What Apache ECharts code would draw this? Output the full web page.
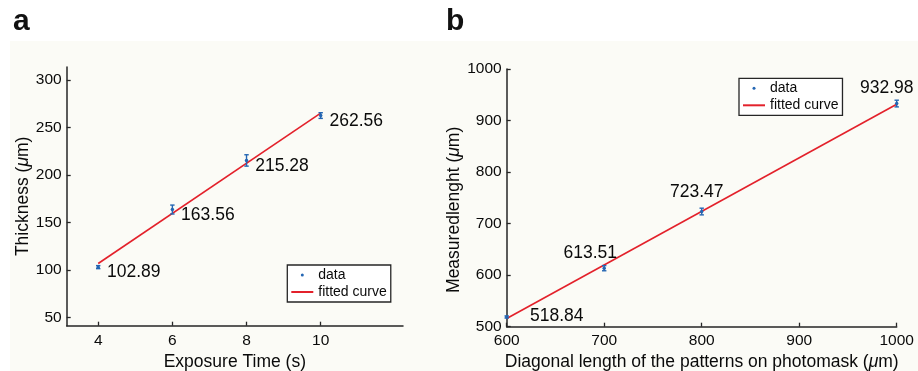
<!DOCTYPE html>
<html>
<head>
<meta charset="utf-8">
<script src="https://cdn.jsdelivr.net/npm/echarts@6/dist/echarts.min.js"></script>
<style>html,body{margin:0;padding:0;background:#fff;}#c{width:918px;height:371px;}</style>
</head>
<body>
<div id="c"></div>
<script>
// ---- Panel a data ----
const xA = [4, 6, 8, 10];
const yA = [102.89, 163.56, 215.28, 262.56];
const errA = [1.6, 4.7, 6.0, 3.0];
const fitA = [[4, 106.7], [10, 265.2]];
const xTicksA = [4, 6, 8, 10];
const yTicksA = [50, 100, 150, 200, 250, 300];

// ---- Panel b data ----
const xB = [600, 700, 800, 1000];
const yB = [518.84, 613.51, 723.47, 932.98];
const errB = [2.0, 5.0, 6.5, 6.5];
const fitB = [[600, 515.8], [1000, 931.5]];
const xTicksB = [600, 700, 800, 900, 1000];
const yTicksB = [500, 600, 700, 800, 900, 1000];

// label placement (style, not data)
const labelOffsetB = [[50, -1], [-14, -15.5], [-5, -19], [-10, -15.5]];

const FONT = '"Liberation Sans", Arial, Helvetica, sans-serif';
const AX = '#262626';
const TXT = '#0a0a0a';
const BLUE = '#2466b3';
const RED = '#e3212b';

const chart = echarts.init(document.getElementById('c'), null, {renderer: 'canvas'});

function errRender(params, api) {
  const x = api.value(0);
  const lo = api.coord([x, api.value(1)]);
  const hi = api.coord([x, api.value(2)]);
  const w = 2.2;
  const st = {stroke: BLUE, lineWidth: 1.4};
  return {
    type: 'group',
    children: [
      {type: 'line', shape: {x1: lo[0], y1: lo[1], x2: hi[0], y2: hi[1]}, style: st},
      {type: 'line', shape: {x1: lo[0] - w, y1: lo[1], x2: lo[0] + w, y2: lo[1]}, style: st},
      {type: 'line', shape: {x1: hi[0] - w, y1: hi[1], x2: hi[0] + w, y2: hi[1]}, style: st}
    ]
  };
}

function makeAxis(ticks, extra, margin) {
  return Object.assign({
    type: 'value',
    axisLine: {show: true, onZero: false, lineStyle: {color: AX, width: 1.5}},
    axisTick: {show: true, inside: true, length: 4, customValues: ticks, lineStyle: {color: AX, width: 1.3}},
    axisLabel: {customValues: ticks, color: TXT, fontSize: 15.5, fontFamily: FONT, margin: margin,
      formatter: v => String(v)},
    splitLine: {show: false},
    nameLocation: 'middle',
    nameTextStyle: {color: TXT, fontSize: 17.5, fontFamily: FONT,
      rich: {i: {fontStyle: 'italic', fontSize: 17.5, fontFamily: FONT, color: TXT}}}
  }, extra);
}

const legendCommon = {
  orient: 'vertical', selectedMode: false,
  backgroundColor: '#ffffff', borderColor: AX, borderWidth: 1.3, borderRadius: 0,
  padding: [2, 4, 2, 3], itemGap: 1, itemWidth: 22, itemHeight: 3,
  textStyle: {fontSize: 14, fontFamily: FONT, color: TXT, lineHeight: 16},
  data: [{name: 'data', icon: 'circle'}, {name: 'fitted curve', itemStyle: {opacity: 0}}]
};

const option = {
  animation: false,
  backgroundColor: '#ffffff',
  textStyle: {fontFamily: FONT},
  graphic: [
    {type: 'rect', z: -10, silent: true, shape: {x: 10, y: 41, width: 908, height: 330}, style: {fill: '#fbfbf6'}},
    {type: 'text', x: 13, y: 21.5, style: {text: 'a', font: 'bold 30px ' + FONT, fill: '#111', verticalAlign: 'middle'}},
    {type: 'text', x: 446, y: 21.5, style: {text: 'b', font: 'bold 30px ' + FONT, fill: '#111', verticalAlign: 'middle'}}
  ],
  grid: [
    {left: 66.7, top: 67, width: 336.3, height: 258.7, containLabel: false, outerBoundsMode: 'none'},
    {left: 506.7, top: 69, width: 390, height: 257.7, containLabel: false, outerBoundsMode: 'none'}
  ],
  xAxis: [
    makeAxis(xTicksA, {gridIndex: 0, min: 3.15, max: 12.22, name: 'Exposure Time (s)', nameGap: 24}, 7),
    makeAxis(xTicksB, {gridIndex: 1, min: 600, max: 1000, name: 'Diagonal length of the patterns on photomask ({i|μ}m)', nameGap: 24}, 6)
  ],
  yAxis: [
    makeAxis(yTicksA, {gridIndex: 0, min: 41.2, max: 313.7, name: 'Thickness ({i|μ}m)', nameGap: 35}, 5),
    makeAxis(yTicksB, {gridIndex: 1, min: 500, max: 1000, name: 'Measuredlenght ({i|μ}m)', nameGap: 39}, 5)
  ],
  legend: [
    Object.assign({}, legendCommon, {left: 287.3, top: 265}),
    Object.assign({}, legendCommon, {left: 739, top: 78.3})
  ],
  series: [
    {
      name: 'fitted curve', type: 'line', xAxisIndex: 0, yAxisIndex: 0,
      data: fitA, symbol: 'none', showSymbol: false, lineStyle: {color: RED, width: 1.6}, itemStyle: {color: RED}, z: 3
    },
    {
      name: 'errA', type: 'custom', xAxisIndex: 0, yAxisIndex: 0, renderItem: errRender, z: 4,
      data: xA.map((x, i) => [x, yA[i] - errA[i], yA[i] + errA[i]])
    },
    {
      name: 'data', type: 'scatter', xAxisIndex: 0, yAxisIndex: 0, symbol: 'circle', symbolSize: 3.5,
      itemStyle: {color: BLUE, opacity: 1}, z: 5,
      data: xA.map((x, i) => [x, yA[i]]),
      label: {show: true, position: 'right', distance: 7, offset: [0, 5.5], opacity: 1,
        formatter: p => yA[p.dataIndex].toFixed(2), fontSize: 17.5, fontFamily: FONT, color: TXT}
    },
    {
      name: 'fitted curve', type: 'line', xAxisIndex: 1, yAxisIndex: 1,
      data: fitB, symbol: 'none', showSymbol: false, lineStyle: {color: RED, width: 1.6}, itemStyle: {color: RED}, z: 3
    },
    {
      name: 'errB', type: 'custom', xAxisIndex: 1, yAxisIndex: 1, renderItem: errRender, z: 4,
      data: xB.map((x, i) => [x, yB[i] - errB[i], yB[i] + errB[i]])
    },
    {
      name: 'data', type: 'scatter', xAxisIndex: 1, yAxisIndex: 1, symbol: 'circle', symbolSize: 3.5,
      itemStyle: {color: BLUE, opacity: 1}, z: 5,
      data: xB.map((x, i) => ({
        value: [x, yB[i]],
        label: {position: 'inside', align: 'center', verticalAlign: 'middle', offset: labelOffsetB[i]}
      })),
      label: {show: true, opacity: 1, textBorderWidth: 0, formatter: p => yB[p.dataIndex].toFixed(2), fontSize: 17.5, fontFamily: FONT, color: TXT}
    }
  ]
};
option.yAxis[1].nameTextStyle = Object.assign({}, option.yAxis[1].nameTextStyle, {padding: [0, 24, 0, 0]});
chart.setOption(option);
</script>
</body>
</html>
